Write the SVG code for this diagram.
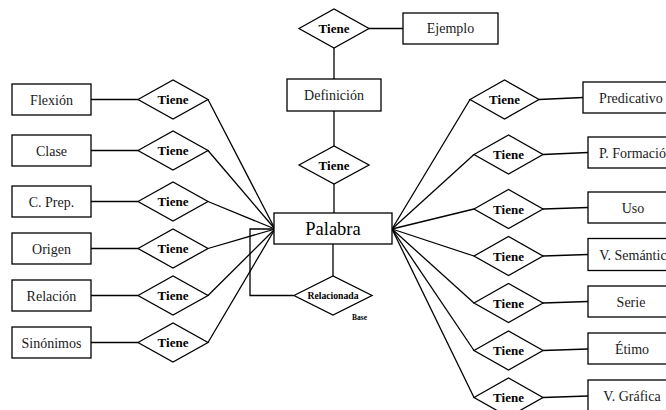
<svg xmlns="http://www.w3.org/2000/svg" width="666" height="410" viewBox="0 0 666 410" font-family="Liberation Serif, DejaVu Serif, Times New Roman, serif">
  <style>
    .box { fill: #ffffff; stroke: #000000; stroke-width: 1.3; }
    .rel { fill: #ffffff; stroke: #000000; stroke-width: 1.3; }
    .lbl { font-size: 14px; fill: #1a1a1a; text-anchor: middle; }
    .tiene { font-size: 13px; font-weight: bold; fill: #000000; text-anchor: middle; }
    .main { font-size: 18.5px; fill: #000000; text-anchor: middle; }
    .small { font-weight: bold; fill: #000000; text-anchor: middle; }
    .conn line, .conn polyline { stroke: #000000; stroke-width: 1.3; fill: none; }
  </style>
  <rect width="666" height="410" fill="#ffffff"/>

  <!-- connectors -->
  <g id="connectors" class="conn">
    <!-- top chain -->
    <line x1="369" y1="28.5" x2="403" y2="28.5"/>
    <line x1="334" y1="48" x2="334" y2="79"/>
    <line x1="334" y1="111" x2="334" y2="146"/>
    <line x1="334" y1="184" x2="334" y2="213"/>
    <!-- self relation -->
    <line x1="333" y1="244" x2="333" y2="276"/>
    <polyline points="294,295.5 250,295.5 250,229 274,229"/>
    <!-- left attributes -->
    <line x1="91" y1="99.5" x2="138" y2="99.5"/>
    <line x1="91" y1="150.5" x2="138" y2="150.5"/>
    <line x1="91" y1="201.5" x2="138" y2="201.5"/>
    <line x1="91" y1="248.5" x2="138" y2="248.5"/>
    <line x1="91" y1="295.5" x2="138" y2="295.5"/>
    <line x1="91" y1="342.5" x2="138" y2="342.5"/>
    <line x1="208" y1="99.5" x2="275" y2="229"/>
    <line x1="208" y1="150.5" x2="275" y2="229"/>
    <line x1="208" y1="201.5" x2="275" y2="229"/>
    <line x1="208" y1="248.5" x2="275" y2="229"/>
    <line x1="208" y1="295.5" x2="275" y2="229"/>
    <line x1="208" y1="342.5" x2="275" y2="229"/>
    <!-- right attributes -->
    <line x1="392" y1="229" x2="470" y2="99.5"/>
    <line x1="392" y1="229" x2="474" y2="154.5"/>
    <line x1="392" y1="229" x2="474" y2="209"/>
    <line x1="392" y1="229" x2="474" y2="256"/>
    <line x1="392" y1="229" x2="474" y2="303"/>
    <line x1="392" y1="229" x2="474" y2="350.5"/>
    <line x1="392" y1="229" x2="474" y2="397.5"/>
    <line x1="539" y1="99.5" x2="583" y2="97.5"/>
    <line x1="543" y1="154.5" x2="588" y2="152.5"/>
    <line x1="543" y1="209" x2="588" y2="207.5"/>
    <line x1="543" y1="256" x2="588" y2="254.5"/>
    <line x1="543" y1="303" x2="588" y2="301.5"/>
    <line x1="543" y1="350.5" x2="588" y2="349"/>
    <line x1="543" y1="397.5" x2="588" y2="396"/>
  </g>

  <!-- central entity -->
  <g id="palabra">
    <rect class="box" x="274" y="213" width="118" height="31"/>
    <text class="main" x="333" y="235">Palabra</text>
  </g>

  <!-- top chain -->
  <g id="tiene-ejemplo">
    <polygon class="rel" points="299,28.5 334,9 369,28.5 334,48"/>
    <text class="tiene" x="334" y="33">Tiene</text>
  </g>
  <g id="ejemplo">
    <rect class="box" x="403" y="13" width="95" height="31"/>
    <text class="lbl" x="450.5" y="33">Ejemplo</text>
  </g>
  <g id="definicion">
    <rect class="box" x="287" y="79" width="94" height="32"/>
    <text class="lbl" x="334" y="100">Definición</text>
  </g>
  <g id="tiene-definicion">
    <polygon class="rel" points="299,165 334,146 369,165 334,184"/>
    <text class="tiene" x="334" y="169.5">Tiene</text>
  </g>

  <!-- self relation -->
  <g id="relacionada">
    <polygon class="rel" points="294,295.5 333,276 372,295.5 333,315"/>
    <text class="small" x="333" y="299" font-size="9.7">Relacionada</text>
    <text class="small" x="359.5" y="319.5" font-size="7.5">Base</text>
  </g>

  <!-- left attributes -->
  <g id="flexion">
    <rect class="box" x="12" y="84" width="79" height="31"/>
    <text class="lbl" x="51.5" y="104.5">Flexión</text>
  </g>
  <g id="tiene-flexion">
    <polygon class="rel" points="138,99.5 173,80 208,99.5 173,119"/>
    <text class="tiene" x="173" y="104">Tiene</text>
  </g>
  <g id="clase">
    <rect class="box" x="12" y="135" width="79" height="31"/>
    <text class="lbl" x="51.5" y="155.5">Clase</text>
  </g>
  <g id="tiene-clase">
    <polygon class="rel" points="138,150.5 173,131 208,150.5 173,170"/>
    <text class="tiene" x="173" y="155">Tiene</text>
  </g>
  <g id="c-prep">
    <rect class="box" x="12" y="186" width="79" height="31"/>
    <text class="lbl" x="51.5" y="206.5">C. Prep.</text>
  </g>
  <g id="tiene-c-prep">
    <polygon class="rel" points="138,201.5 173,182 208,201.5 173,221"/>
    <text class="tiene" x="173" y="206">Tiene</text>
  </g>
  <g id="origen">
    <rect class="box" x="12" y="233" width="79" height="31"/>
    <text class="lbl" x="51.5" y="253.5">Origen</text>
  </g>
  <g id="tiene-origen">
    <polygon class="rel" points="138,248.5 173,229 208,248.5 173,268"/>
    <text class="tiene" x="173" y="253">Tiene</text>
  </g>
  <g id="relacion">
    <rect class="box" x="12" y="280" width="79" height="31"/>
    <text class="lbl" x="51.5" y="300.5">Relación</text>
  </g>
  <g id="tiene-relacion">
    <polygon class="rel" points="138,295.5 173,276 208,295.5 173,315"/>
    <text class="tiene" x="173" y="300">Tiene</text>
  </g>
  <g id="sinonimos">
    <rect class="box" x="12" y="327" width="79" height="31"/>
    <text class="lbl" x="51.5" y="347.5">Sinónimos</text>
  </g>
  <g id="tiene-sinonimos">
    <polygon class="rel" points="138,342.5 173,323 208,342.5 173,362"/>
    <text class="tiene" x="173" y="347">Tiene</text>
  </g>

  <!-- right attributes -->
  <g id="tiene-predicativo">
    <polygon class="rel" points="470,99.5 504.5,80 539,99.5 504.5,119"/>
    <text class="tiene" x="504.5" y="104">Tiene</text>
  </g>
  <g id="predicativo">
    <rect class="box" x="583" y="82" width="96" height="31"/>
    <text class="lbl" x="631" y="102.5">Predicativo</text>
  </g>
  <g id="tiene-p-formacion">
    <polygon class="rel" points="474,154.5 508.5,135 543,154.5 508.5,174"/>
    <text class="tiene" x="508.5" y="159">Tiene</text>
  </g>
  <g id="p-formacion">
    <rect class="box" x="588" y="137" width="96" height="31"/>
    <text class="lbl" x="636" y="157.5">P. Formación</text>
  </g>
  <g id="tiene-uso">
    <polygon class="rel" points="474,209 508.5,189.5 543,209 508.5,228.5"/>
    <text class="tiene" x="508.5" y="213.5">Tiene</text>
  </g>
  <g id="uso">
    <rect class="box" x="588" y="192" width="90" height="31"/>
    <text class="lbl" x="633" y="212.5">Uso</text>
  </g>
  <g id="tiene-v-semantica">
    <polygon class="rel" points="474,256 508.5,236.5 543,256 508.5,275.5"/>
    <text class="tiene" x="508.5" y="260.5">Tiene</text>
  </g>
  <g id="v-semantica">
    <rect class="box" x="588" y="238.5" width="96" height="32"/>
    <text class="lbl" x="636" y="259.5">V. Semántica</text>
  </g>
  <g id="tiene-serie">
    <polygon class="rel" points="474,303 508.5,283.5 543,303 508.5,322.5"/>
    <text class="tiene" x="508.5" y="307.5">Tiene</text>
  </g>
  <g id="serie">
    <rect class="box" x="588" y="286" width="90" height="31"/>
    <text class="lbl" x="631" y="306.5">Serie</text>
  </g>
  <g id="tiene-etimo">
    <polygon class="rel" points="474,350.5 508.5,331 543,350.5 508.5,370"/>
    <text class="tiene" x="508.5" y="355">Tiene</text>
  </g>
  <g id="etimo">
    <rect class="box" x="588" y="333" width="90" height="31"/>
    <text class="lbl" x="632" y="353.5">Étimo</text>
  </g>
  <g id="tiene-v-grafica">
    <polygon class="rel" points="474,397.5 508.5,378 543,397.5 508.5,417"/>
    <text class="tiene" x="508.5" y="402">Tiene</text>
  </g>
  <g id="v-grafica">
    <rect class="box" x="588" y="380" width="90" height="31"/>
    <text class="lbl" x="632" y="400.5">V. Gráfica</text>
  </g>
</svg>
